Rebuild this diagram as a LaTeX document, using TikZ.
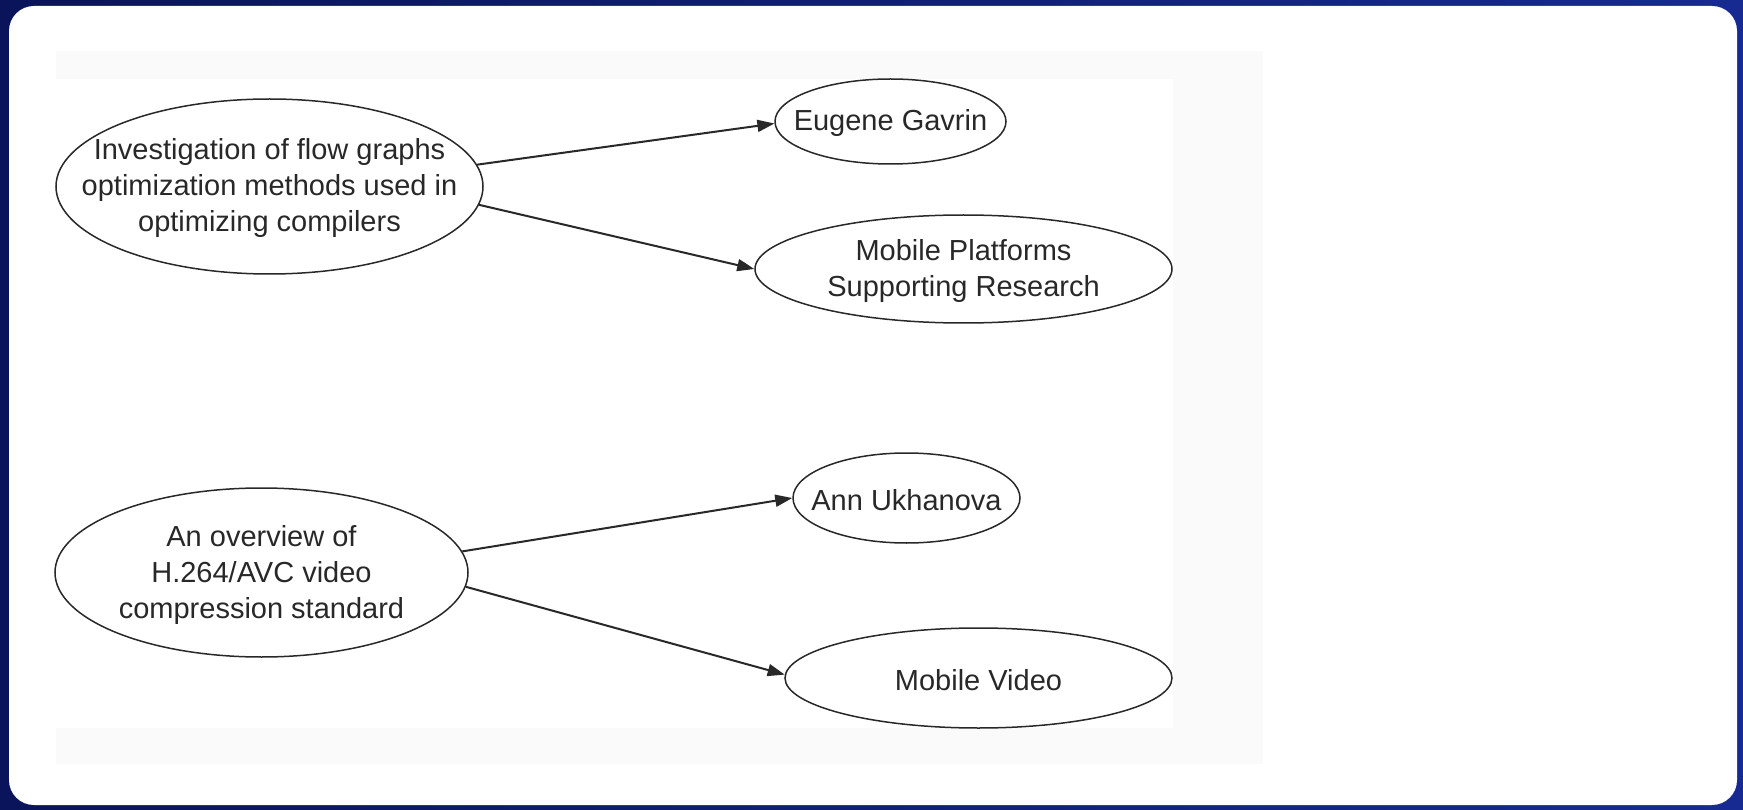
\documentclass[tikz,border=0pt]{standalone}
\usepackage{fontspec}
\setmainfont{Liberation Sans}
\usetikzlibrary{shapes.geometric,arrows.meta}
\definecolor{navyA}{RGB}{10,20,90}
\definecolor{navyB}{RGB}{22,42,145}
\definecolor{panel}{RGB}{250,250,250}
\definecolor{ink}{RGB}{40,40,40}
\tikzset{
  ell/.style={draw=ink, line width=1.5pt, ellipse, inner sep=0pt, fill=white},
  txt/.style={text=ink, align=center, font=\fontsize{29}{36}\selectfont, inner sep=0pt, yshift=-2pt},
  link/.style={draw=ink, line width=2pt, -{Triangle[length=17pt,width=12pt]}}
}
\begin{document}
\begin{tikzpicture}[x=1pt,y=-1pt]
\useasboundingbox (0,0) rectangle (1743,810);
\shade[left color=navyA, right color=navyB, shading angle=90] (0,0) rectangle (1743,810);
\fill[white, rounded corners=25pt] (9,6) rectangle (1737,805);
\fill[panel] (56,51) rectangle (1263,764);
\fill[white] (56,79) rectangle (1173,728);

\node[ell, minimum width=427pt, minimum height=175pt,
  label={[txt]center:{Investigation of flow graphs\\optimization methods used in\\optimizing compilers}}]
  (e1) at (269.5,186.5) {};
\node[ell, minimum width=231pt, minimum height=85pt,
  label={[txt]center:{Eugene Gavrin}}] (eg) at (890.5,121.5) {};
\node[ell, minimum width=417pt, minimum height=108pt,
  label={[txt]center:{Mobile Platforms\\Supporting Research}}] (mp) at (963.5,269) {};

\node[ell, minimum width=413pt, minimum height=169pt,
  label={[txt]center:{An overview of\\H.264/AVC video\\compression standard}}]
  (e2) at (261.5,572.5) {};
\node[ell, minimum width=227pt, minimum height=90pt,
  label={[txt]center:{Ann Ukhanova}}] (au) at (906.5,498) {};
\node[ell, minimum width=387pt, minimum height=100pt,
  label={[txt]center:{Mobile Video}}] (mv) at (978.5,678) {};

\draw[link] (e1.6) -- (eg.181);
\draw[link] (e1.-5) -- (mp.180);
\draw[link] (e2.6) -- (au.180.5);
\draw[link] (e2.-4.7) -- (mv.179);
\end{tikzpicture}
\end{document}
